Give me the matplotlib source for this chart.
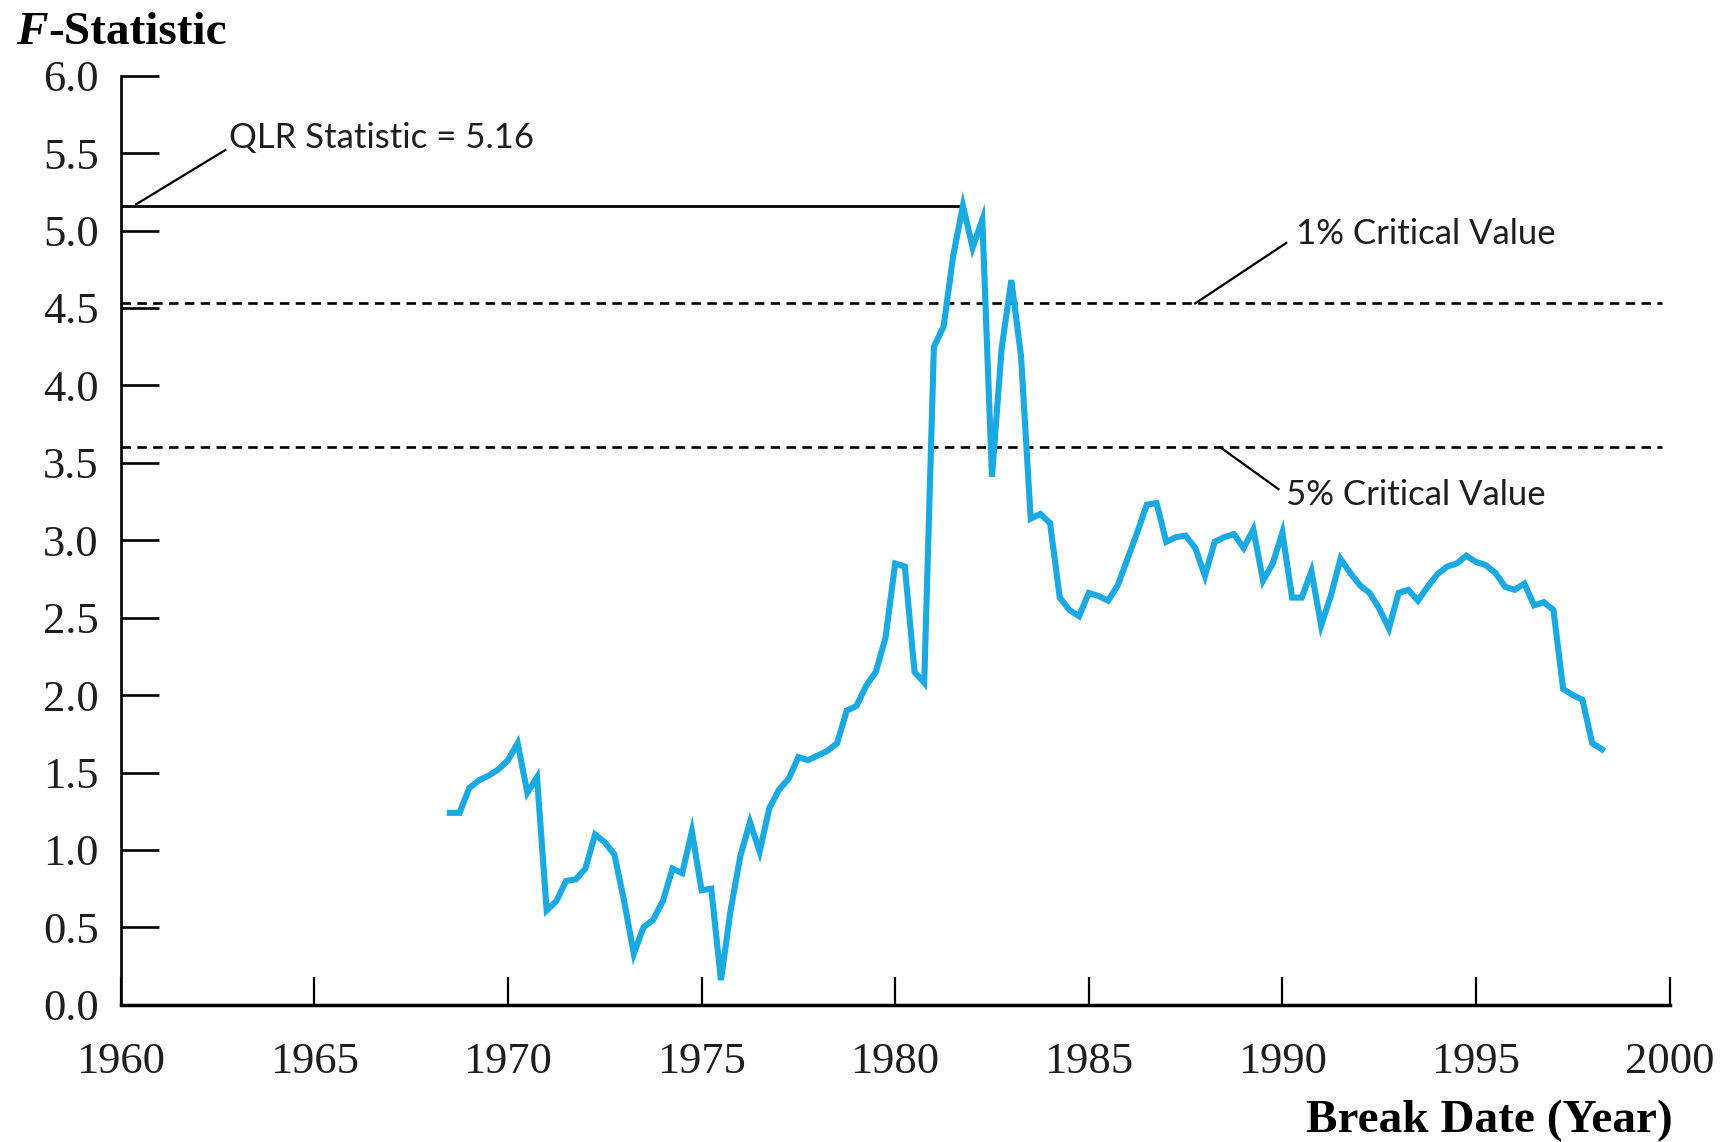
import matplotlib.pyplot as plt
import numpy as np

# Quarterly break dates, first one 1968:III
first_break = 1968.5
f_stat = [
    1.24, 1.24, 1.40, 1.45, 1.48, 1.52, 1.58, 1.69, 1.37, 1.47,
    0.61, 0.67, 0.80, 0.81, 0.88, 1.10, 1.05, 0.97, 0.67, 0.33,
    0.50, 0.55, 0.67, 0.88, 0.85, 1.12, 0.74, 0.75, 0.16, 0.61,
    0.96, 1.18, 0.99, 1.27, 1.39, 1.46, 1.60, 1.58, 1.61, 1.64,
    1.69, 1.90, 1.93, 2.06, 2.15, 2.37, 2.85, 2.83, 2.15, 2.08,
    4.25, 4.38, 4.84, 5.16, 4.89, 5.07, 3.41, 4.24, 4.68, 4.19,
    3.14, 3.17, 3.11, 2.63, 2.55, 2.51, 2.66, 2.64, 2.61, 2.71,
    2.88, 3.05, 3.23, 3.24, 2.99, 3.02, 3.03, 2.95, 2.77, 2.99,
    3.02, 3.04, 2.95, 3.07, 2.74, 2.85, 3.05, 2.63, 2.63, 2.80,
    2.45, 2.64, 2.88, 2.79, 2.71, 2.66, 2.56, 2.43, 2.66, 2.68,
    2.61, 2.70, 2.78, 2.83, 2.85, 2.90, 2.86, 2.84, 2.79, 2.70,
    2.68, 2.72, 2.58, 2.60, 2.55, 2.04, 2.00, 1.97, 1.69, 1.65,
]
break_dates = first_break + 0.25 * np.arange(len(f_stat))

qlr_value = 5.16
qlr_date = 1981.75
crit_1pct = 4.53
crit_5pct = 3.60

x_ticks = [1960, 1965, 1970, 1975, 1980, 1985, 1990, 1995, 2000]
y_ticks = [0.0, 0.5, 1.0, 1.5, 2.0, 2.5, 3.0, 3.5, 4.0, 4.5, 5.0, 5.5, 6.0]

serif = 'Liberation Serif'
sans = 'Lato'
ink = '#1e1e1e'

fig = plt.figure(figsize=(17.2, 11.42), dpi=100)
ax = fig.add_axes([0.0702, 0.1201, 0.9005, 0.8136])
ax.set_xlim(1960, 2000)
ax.set_ylim(0, 6)

for side in ['top', 'right']:
    ax.spines[side].set_visible(False)
ax.spines['left'].set_linewidth(1.9)
ax.spines['bottom'].set_linewidth(2.5)

ax.set_xticks(x_ticks)
ax.set_yticks(y_ticks)
ax.set_yticklabels([f'{v:.1f}' for v in y_ticks])
ax.tick_params(axis='y', direction='in', length=27, width=1.9, pad=16,
               labelsize=32, labelcolor=ink)
ax.tick_params(axis='x', direction='in', length=20, width=1.6, pad=27,
               labelsize=32, labelcolor=ink)
for lab in ax.get_xticklabels() + ax.get_yticklabels():
    lab.set_fontfamily(serif)

# critical values and QLR line
ax.axhline(crit_1pct, xmin=0.0, xmax=0.995, color='black', lw=1.9,
           linestyle=(0, (3.6, 2.4)))
ax.axhline(crit_5pct, xmin=0.0, xmax=0.995, color='black', lw=1.9,
           linestyle=(0, (3.6, 2.4)))
ax.plot([1960, qlr_date], [qlr_value, qlr_value], color='black', lw=2.0)

ax.plot(break_dates, f_stat, color='#1BA9E2', lw=4.4, solid_joinstyle='miter',
        clip_on=False, zorder=3)

# annotations
ax.plot([1960.4, 1962.7], [5.17, 5.52], color='black', lw=1.6)
ax.text(1962.8, 5.60, 'QLR Statistic = 5.16', fontsize=25, family=sans,
        va='center', ha='left', color=ink)

ax.plot([1987.75, 1990.1], [crit_1pct, 4.92], color='black', lw=1.6)
ax.text(1990.35, 4.98, '1% Critical Value', fontsize=25, family=sans,
        va='center', ha='left', color=ink)

ax.plot([1988.4, 1989.9], [crit_5pct, 3.33], color='black', lw=1.6)
ax.text(1990.1, 3.29, '5% Critical Value', fontsize=25, family=sans,
        va='center', ha='left', color=ink)

# axis titles
t1 = fig.text(0.0095, 0.9615, 'F', fontsize=34, family=serif,
              fontweight='bold', fontstyle='italic', va='baseline')
fig.canvas.draw()
bb = t1.get_window_extent(fig.canvas.get_renderer())
fig.text(bb.x1 / fig.bbox.width, 0.9615, '-Statistic', fontsize=34,
         family=serif, fontweight='bold', va='baseline')

fig.text(0.9727, 0.0085, 'Break Date (Year)', fontsize=34, family=serif,
         fontweight='bold', ha='right', va='baseline')

fig.savefig('out.png', dpi=100, facecolor='white')
